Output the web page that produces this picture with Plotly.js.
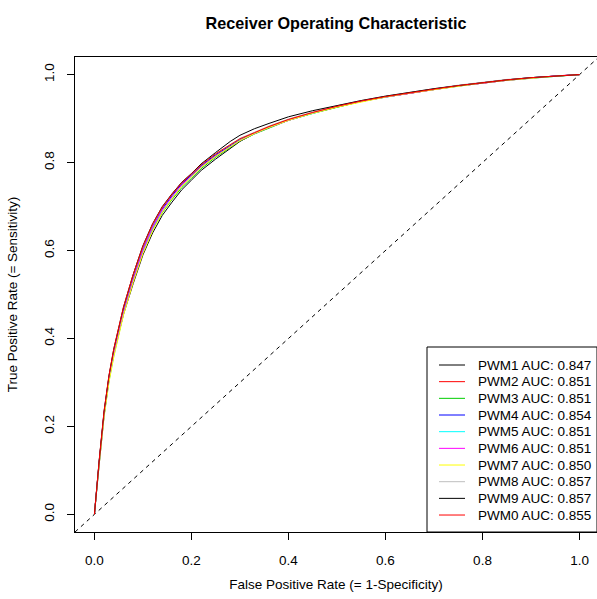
<!DOCTYPE html>
<html>
<head>
<meta charset="utf-8">
<script src="https://cdn.plot.ly/plotly-3.0.1.min.js"></script>
<style>html,body{margin:0;padding:0;background:#fff;}#chart{width:597px;height:599px;}</style>
</head>
<body>
<div id="chart"></div>
<script>
// ---- data ----
const seriesNames = ["PWM1","PWM2","PWM3","PWM4","PWM5","PWM6","PWM7","PWM8","PWM9","PWM0"];
const aucValues = ["0.847","0.851","0.851","0.854","0.851","0.851","0.850","0.857","0.857","0.855"];
const seriesColors = ["black","red","#00CD00","blue","cyan","magenta","yellow","#BEBEBE","black","red"];
const fpr = [0,0.005,0.01,0.02,0.03,0.04,0.05,0.06,0.08,0.10,0.12,0.14,0.16,0.18,0.20,0.22,0.25,0.28,0.30,0.33,0.36,0.40,0.45,0.50,0.55,0.60,0.65,0.70,0.75,0.80,0.85,0.90,0.95,1.0];
const tprPWM1 = [0,.065,.115,.225,.305,.365,.41,.455,.525,.59,.64,.68,.71,.738,.76,.782,.808,.832,.848,.866,.881,.897,.913,.927,.939,.949,.958,.966,.974,.981,.987,.992,.996,1];
const tprPWM2 = [0,.072,.122,.232,.312,.372,.422,.467,.542,.607,.657,.696,.726,.752,.771,.791,.816,.838,.851,.866,.880,.896,.912,.926,.939,.949,.958,.966,.974,.981,.987,.992,.997,1];
const tprPWM3 = [0,.07,.12,.228,.308,.367,.417,.462,.536,.60,.648,.686,.716,.743,.764,.786,.812,.835,.849,.865,.879,.896,.912,.926,.939,.950,.959,.967,.975,.982,.988,.993,.997,1];
const tprPWM4 = [0,.07,.121,.231,.311,.371,.421,.466,.541,.606,.656,.695,.725,.752,.772,.793,.818,.839,.852,.867,.881,.897,.913,.927,.940,.950,.959,.967,.975,.982,.988,.993,.997,1];
const tprPWM5 = [0,.068,.117,.225,.302,.36,.41,.456,.532,.598,.65,.691,.722,.749,.769,.79,.815,.837,.851,.866,.880,.896,.912,.927,.939,.949,.958,.966,.974,.981,.987,.992,.996,1];
const tprPWM6 = [0,.069,.118,.227,.306,.364,.414,.459,.534,.6,.652,.692,.722,.749,.769,.79,.815,.837,.850,.866,.880,.896,.913,.927,.939,.949,.958,.966,.974,.981,.987,.992,.997,1];
const tprPWM7 = [0,.066,.115,.222,.3,.358,.408,.453,.528,.593,.645,.687,.718,.746,.767,.789,.814,.836,.850,.866,.880,.896,.912,.926,.938,.949,.958,.966,.974,.981,.987,.992,.996,1];
const tprPWM8 = [0,.072,.123,.233,.313,.373,.423,.468,.543,.608,.658,.698,.728,.755,.775,.796,.82,.842,.855,.869,.883,.899,.915,.929,.941,.951,.960,.968,.976,.983,.989,.993,.997,1];
const tprPWM9 = [0,.072,.124,.235,.315,.376,.426,.471,.546,.611,.661,.700,.729,.755,.775,.797,.823,.848,.862,.877,.889,.904,.918,.930,.941,.951,.960,.968,.975,.982,.988,.993,.997,1];
const tprPWM0 = [0,.073,.125,.236,.316,.377,.427,.472,.546,.61,.66,.699,.728,.754,.774,.795,.82,.841,.854,.868,.882,.898,.914,.928,.940,.950,.959,.967,.975,.982,.988,.993,.997,1];
const tickVals = [0,0.2,0.4,0.6,0.8,1.0];
const tickText = ["0.0","0.2","0.4","0.6","0.8","1.0"];
const xRange = [-0.04, 1.036];
const yRange = [-0.04, 1.04];

// ---- build ----
const tprs = [tprPWM1,tprPWM2,tprPWM3,tprPWM4,tprPWM5,tprPWM6,tprPWM7,tprPWM8,tprPWM9,tprPWM0];
const W = 597, H = 599;
const M = {l:75, r:0, t:57, b:67};
const FONT = "Liberation Sans, Arial, Helvetica, sans-serif";

const traces = tprs.map((t,i)=>({
  type:"scatter", mode:"lines", x:fpr, y:t,
  name: seriesNames[i]+" AUC: "+aucValues[i],
  line:{color:seriesColors[i], width:1},
  showlegend:false, hoverinfo:"skip"
}));

const pw = W - M.l - M.r, ph = H - M.t - M.b;
const px2x = p => (p - M.l)/pw;
const py2y = p => (H - M.b - p)/ph;

const shapes = [
  {type:"line", xref:"x", yref:"y", x0:yRange[0], y0:yRange[0], x1:yRange[1], y1:yRange[1],
   line:{color:"black", width:1, dash:"4px,4px"}, layer:"below"},
  {type:"rect", xref:"paper", yref:"paper", x0:px2x(427), x1:1, y0:0, y1:py2y(347),
   line:{color:"black", width:1}, fillcolor:"white", layer:"above"}
];
const annotations = [];
seriesNames.forEach((n,i)=>{
  const yc = 365 + i*16.67;
  shapes.push({type:"line", xref:"paper", yref:"paper", x0:px2x(439), x1:px2x(465), y0:py2y(yc), y1:py2y(yc),
    line:{color:seriesColors[i], width:1}, layer:"above"});
  annotations.push({xref:"paper", yref:"paper", x:px2x(476), y:py2y(yc), xanchor:"left", yanchor:"middle",
    text:n+" AUC: "+aucValues[i], showarrow:false, font:{family:FONT, size:13.5, color:"black"}});
});

const axisCommon = {
  showgrid:false, zeroline:false, showline:true, mirror:true,
  linecolor:"black", linewidth:1, ticks:"outside", ticklen:7, tickwidth:1, tickcolor:"black",
  tickvals:tickVals, ticktext:tickText, tickfont:{family:FONT, size:13.5, color:"black"},
  fixedrange:true
};

const layout = {
  width:W, height:H, margin:M,
  paper_bgcolor:"white", plot_bgcolor:"white",
  font:{family:FONT, size:13.5, color:"black"},
  title:{text:"<b>Receiver Operating Characteristic</b>", font:{family:FONT, size:16.2, color:"black"},
         x:0.5, xref:"paper", y:1-23/H, yref:"container", yanchor:"middle"},
  xaxis:Object.assign({}, axisCommon, {
    range:xRange, ticklabelstandoff:9,
    title:{text:"False Positive Rate (= 1-Specificity)", font:{family:FONT, size:13.5, color:"black"}, standoff:12}
  }),
  yaxis:Object.assign({}, axisCommon, {
    range:yRange, tickangle:-90, ticklabelstandoff:8,
    title:{text:"True Positive Rate (= Sensitivity)", font:{family:FONT, size:13.5, color:"black"}, standoff:20}
  }),
  shapes:shapes, annotations:annotations, showlegend:false
};

Plotly.newPlot("chart", traces, layout, {displayModeBar:false, staticPlot:true});
</script>
</body>
</html>
